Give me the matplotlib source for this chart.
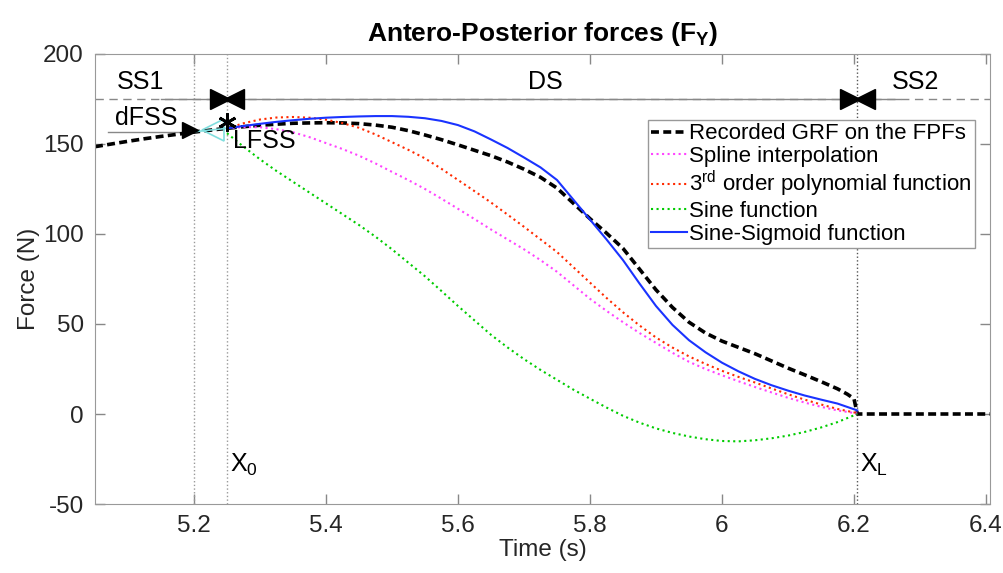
import matplotlib
matplotlib.use('Agg')
import matplotlib.pyplot as plt

# values
t_rec = [5.05, 5.075, 5.10, 5.125, 5.15, 5.175, 5.20, 5.225, 5.25, 5.275,
         5.30, 5.325, 5.35, 5.375, 5.40, 5.425, 5.45, 5.475, 5.50, 5.525,
         5.55, 5.575, 5.60, 5.625, 5.65, 5.675, 5.70, 5.725, 5.75, 5.775,
         5.80, 5.825, 5.85, 5.875, 5.90, 5.925, 5.95, 5.975, 6.00, 6.025,
         6.05, 6.075, 6.10, 6.125, 6.15, 6.175, 6.19, 6.20, 6.205,
         6.25, 6.30, 6.35, 6.41]
f_rec = [148.5, 150.0, 151.5, 152.9, 154.2, 155.4, 156.6, 157.7, 158.7, 159.6,
         160.4, 161.0, 161.5, 161.7, 161.8, 161.7, 161.3, 160.5, 159.3, 157.4,
         155.0, 152.4, 149.5, 146.5, 143.5, 140.0, 136.0, 131.5, 125.5, 117.0,
         108.5, 100.5, 92.0, 80.5, 69.0, 59.2, 51.0, 45.0, 40.5, 37.0,
         33.5, 29.5, 25.5, 21.8, 18.0, 14.0, 11.0, 8.5, 0.0,
         0.0, 0.0, 0.0, 0.0]

t_fit = [5.25, 5.275, 5.30, 5.325, 5.35, 5.375, 5.40, 5.425, 5.45, 5.475,
         5.50, 5.525, 5.55, 5.575, 5.60, 5.625, 5.65, 5.675, 5.70, 5.725,
         5.75, 5.775, 5.80, 5.825, 5.85, 5.875, 5.90, 5.925, 5.95, 5.975,
         6.00, 6.025, 6.05, 6.075, 6.10, 6.125, 6.15, 6.175, 6.205]
f_spline = [158.7, 159.4, 159.3, 158.2, 156.5, 153.8, 150.5, 147.2, 143.5, 139.2,
            134.5, 129.9, 125.0, 119.6, 114.0, 108.3, 102.5, 97.0, 91.5, 85.5,
            79.0, 71.5, 64.0, 57.3, 51.0, 45.0, 39.5, 34.0, 29.0, 25.0,
            21.5, 18.2, 15.0, 12.0, 9.0, 6.4, 4.0, 2.0, 0.3]
f_poly3 = [158.7, 161.5, 163.6, 164.7, 165.0, 164.6, 163.5, 161.6, 159.0, 155.3,
           151.0, 146.7, 142.0, 136.2, 130.0, 123.8, 117.5, 110.8, 104.0, 97.0,
           90.0, 81.5, 73.0, 64.5, 56.5, 49.2, 42.5, 36.9, 32.0, 27.8,
           24.0, 20.6, 17.5, 14.2, 11.0, 8.0, 5.3, 2.8, 0.5]
f_sine = [156.0, 148.5, 141.5, 135.0, 129.0, 123.0, 117.0, 111.0, 105.0, 98.5,
          91.5, 84.0, 76.5, 68.3, 60.0, 52.0, 44.0, 37.0, 30.5, 24.5,
          19.0, 13.5, 8.5, 3.6, -1.0, -4.8, -8.0, -10.5, -12.5, -14.0,
          -15.0, -15.2, -14.6, -13.5, -12.0, -10.0, -7.5, -4.5, 0.0]
f_sigmoid = [158.7, 160.0, 161.2, 162.3, 163.2, 164.0, 164.6, 165.0, 165.3, 165.5,
             165.5, 165.1, 164.3, 162.8, 160.5, 157.0, 152.5, 147.8, 142.5, 137.0,
             130.0, 119.0, 108.0, 97.0, 85.5, 72.5, 60.0, 49.5, 41.0, 34.3,
             28.5, 23.7, 19.5, 16.0, 13.0, 10.3, 8.0, 5.8, 2.0]

# phase markers
t_ss1 = 5.20      # end of dFSS
x0 = 5.25         # start of double support
xl = 6.205        # end of double support
f_phase = 175     # level of the phase bar
f_dfss = 156.8
f_lfss = 162.0

plt.rcParams['font.family'] = ['Liberation Sans', 'DejaVu Sans']
plt.rcParams['mathtext.fontset'] = 'custom'
plt.rcParams['mathtext.rm'] = 'Liberation Sans'
plt.rcParams['mathtext.bf'] = 'Liberation Sans:bold'
plt.rcParams['axes.unicode_minus'] = False

fig = plt.figure(figsize=(10.04, 5.73), dpi=100)
ax = fig.add_axes([0.0946, 0.1204, 0.8914, 0.7854])

# guide lines
ax.axvline(t_ss1, color='#999999', ls=':', lw=1)
ax.axvline(x0, color='#999999', ls=':', lw=1)
ax.axvline(xl, color='#555555', ls=':', lw=1)
ax.plot([5.05, 6.41], [f_phase, f_phase], color='#888888', ls=(0, (6, 4)), lw=1)
ax.plot([5.15, 6.27], [f_phase, f_phase], color='#888888', ls='-', lw=1)
ax.plot([5.07, t_ss1], [f_dfss, f_dfss], color='#888888', ls='-', lw=1)

# curves
ax.plot(t_rec, f_rec, color='black', ls=(0, (2.2, 1.2)), lw=2.6, label='Recorded GRF on the FPFs')
ax.plot(t_fit, f_spline, color='#ff44ff', ls=':', lw=1.5, label='Spline interpolation')
ax.plot(t_fit, f_poly3, color='#ff2a00', ls=':', lw=1.5, label='3$^{\\rm rd}$ order polynomial function')
ax.plot(t_fit, f_sine, color='#00cc00', ls=':', lw=1.5, label='Sine function')
ax.plot(t_fit, f_sigmoid, color='#1a33ff', ls='-', lw=1.5, label='Sine-Sigmoid function')

# markers
ax.plot([t_ss1, x0], [f_dfss, f_rec[8]], color='#80dede', lw=1.2)
ax.plot([(t_ss1 + x0) / 2 + 0.004], [f_dfss + 0.8], marker='<', ms=16, mfc='none', mec='#80dede', mew=1.2)
ax.plot([t_ss1 - 0.006], [f_dfss + 0.8], marker='>', ms=12, color='black')
ax.plot([x0], [f_lfss], marker=(6, 2, 0), ms=13, color='black', mew=2)
for xp in [x0, xl]:
    ax.plot([xp - 0.011], [f_phase], marker='>', ms=14, color='black')
    ax.plot([xp + 0.011], [f_phase], marker='<', ms=14, color='black')

# labels in the plot
fs = 18
ax.text(5.119, 184.5, 'SS1', fontsize=fs, ha='center', va='center')
ax.text(5.732, 184.5, 'DS', fontsize=fs, ha='center', va='center')
ax.text(6.293, 184.5, 'SS2', fontsize=fs, ha='center', va='center')
ax.text(5.127, 164.5, 'dFSS', fontsize=fs, ha='center', va='center')
ax.text(5.306, 151.5, 'LFSS', fontsize=fs, ha='center', va='center')
ax.text(x0 + 0.004, -28, 'X$_0$', fontsize=fs, ha='left', va='center')
ax.text(xl + 0.004, -28, 'X$_{\\rm L}$', fontsize=fs, ha='left', va='center')

ax.set_xlim(5.05, 6.406)
ax.set_ylim(-50, 200)
ax.set_xticks([5.2, 5.4, 5.6, 5.8, 6.0, 6.2, 6.4])
ax.set_xticklabels(['5.2', '5.4', '5.6', '5.8', '6', '6.2', '6.4'])
ax.set_yticks([-50, 0, 50, 100, 150, 200])
ax.tick_params(direction='in', top=True, right=True, length=7, width=1, color='#888888',
               labelcolor='#262626', labelsize=17.5, pad=8)
for s in ax.spines.values():
    s.set_color('#999999')
ax.set_xlabel('Time (s)', fontsize=17.5, color='#262626', labelpad=1)
ax.set_ylabel('Force (N)', fontsize=17.5, color='#262626', labelpad=2)
ax.set_title('Antero-Posterior forces (F$_{\\mathbf{Y}}$)', fontsize=19, fontweight='bold', pad=9)

leg = ax.legend(loc='upper left', bbox_to_anchor=(0.618, 0.853), borderaxespad=0, fontsize=16,
                handlelength=1.6, handletextpad=0.1, labelspacing=0.08, borderpad=0.15,
                fancybox=False, framealpha=1)
leg.get_frame().set_edgecolor('#999999')
leg.get_frame().set_linewidth(1)

fig.savefig('out.png', dpi=100)
